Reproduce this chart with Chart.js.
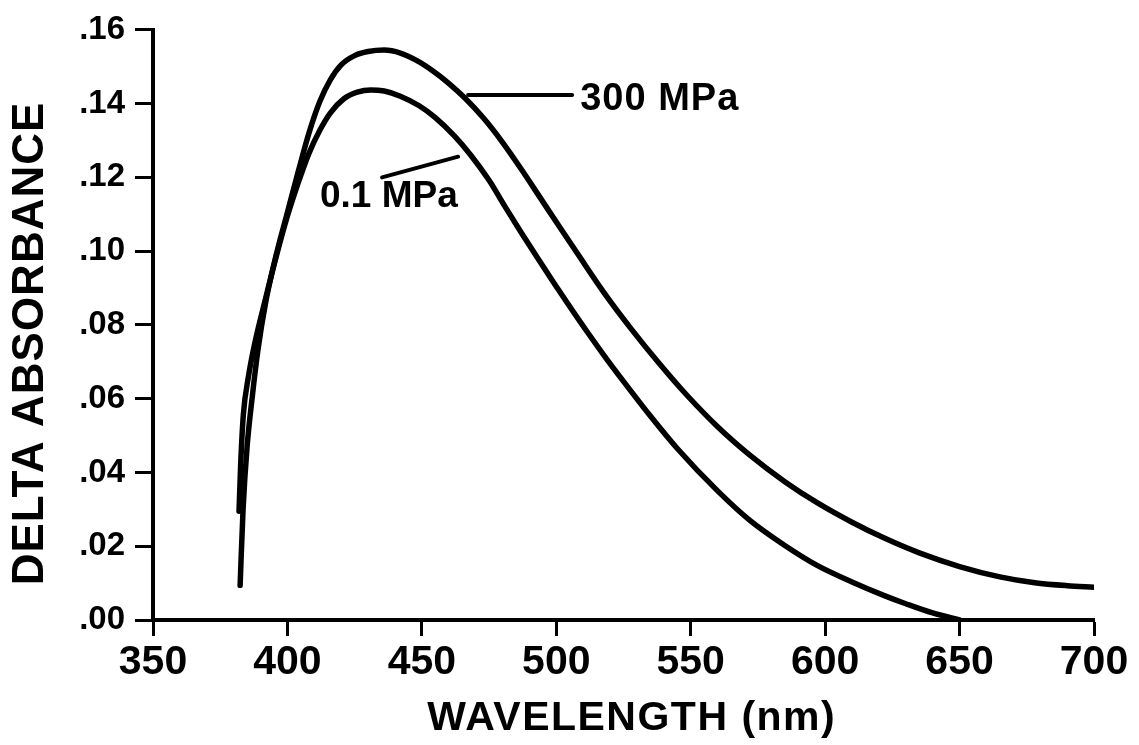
<!DOCTYPE html>
<html>
<head>
<meta charset="utf-8">
<script src="https://cdn.jsdelivr.net/npm/chart.js@4.4.1/dist/chart.umd.min.js"></script>
<style>
  html, body { margin: 0; padding: 0; background: #fff; }
  #c { display: block; }
</style>
</head>
<body>
<canvas id="c" width="1139" height="745"></canvas>
<script>
// ---- Data ----
const wavelength01 = [382, 382.6, 383.6, 385.5, 388, 392, 396, 400, 404, 408, 412, 416, 421, 426, 431, 436, 442, 449, 455, 462, 468, 475, 481, 487, 493, 499, 505, 512, 518, 525, 535, 545, 560, 572, 585, 597, 610, 622, 630, 640, 650];
const absorb01 = [0.0295, 0.042, 0.0556, 0.066, 0.0755, 0.0875, 0.099, 0.1095, 0.1185, 0.1265, 0.1327, 0.1375, 0.1413, 0.1431, 0.1437, 0.1434, 0.1420, 0.1394, 0.1362, 0.1313, 0.1262, 0.1192, 0.1120, 0.1050, 0.0982, 0.0915, 0.0850, 0.0776, 0.0715, 0.0647, 0.0553, 0.0465, 0.0350, 0.0270, 0.0202, 0.0148, 0.0103, 0.0066, 0.0044, 0.0019, 0.0];

const wavelength300 = [382.4, 383.5, 385, 387, 389, 392, 396, 400, 404, 408, 412, 416, 420, 425, 430, 436, 442, 448, 454, 460, 466, 473, 480, 487, 494, 501, 508, 518, 528, 538, 548, 560, 572, 585, 597, 610, 622, 635, 650, 665, 678, 690, 700];
const absorb300 = [0.0094, 0.030, 0.047, 0.061, 0.073, 0.0865, 0.0995, 0.1105, 0.1215, 0.132, 0.1405, 0.1465, 0.1505, 0.1530, 0.1541, 0.1545, 0.1537, 0.1517, 0.1489, 0.1455, 0.1415, 0.1360, 0.1295, 0.1222, 0.1145, 0.1068, 0.0992, 0.0885, 0.0788, 0.0698, 0.0614, 0.0524, 0.0447, 0.0375, 0.0318, 0.0265, 0.0222, 0.0182, 0.0145, 0.0117, 0.0101, 0.0093, 0.0089];

const seriesNames = ['0.1 MPa', '300 MPa'];
const xTickLabels = ['350', '400', '450', '500', '550', '600', '650', '700'];
const yTickLabels = ['.00', '.02', '.04', '.06', '.08', '.10', '.12', '.14', '.16'];
const xTitle = 'WAVELENGTH (nm)';
const yTitle = 'DELTA ABSORBANCE';

// label anchors (data coordinates)
const labelAnchors = [
  { text: '300 MPa', line: [[467.2, 0.1423], [505.9, 0.1423]], at: [508.9, 0.1410], size: 38, spacing: 1 },
  { text: '0.1 MPa', line: [[435.2, 0.1200], [463.5, 0.1256]], at: [412.1, 0.1146], size: 37, spacing: 0 }
];

const toPoints = (xs, ys) => xs.map((x, i) => ({ x: x, y: ys[i] }));

const FONT = '"Liberation Sans", Arial, Helvetica, sans-serif';

const annotPlugin = {
  id: 'annot',
  afterDraw(chart) {
    const ctx = chart.ctx;
    const xs = chart.scales.x, ys = chart.scales.y;
    ctx.save();
    ctx.fillStyle = '#000';
    ctx.strokeStyle = '#000';
    labelAnchors.forEach((a) => {
      ctx.lineWidth = 4;
      ctx.lineCap = 'round';
      ctx.beginPath();
      ctx.moveTo(xs.getPixelForValue(a.line[0][0]), ys.getPixelForValue(a.line[0][1]));
      ctx.lineTo(xs.getPixelForValue(a.line[1][0]), ys.getPixelForValue(a.line[1][1]));
      ctx.stroke();
      ctx.font = 'bold ' + a.size + 'px ' + FONT;
      ctx.letterSpacing = a.spacing + 'px';
      ctx.textAlign = 'left';
      ctx.textBaseline = 'middle';
      ctx.fillText(a.text, xs.getPixelForValue(a.at[0]), ys.getPixelForValue(a.at[1]));
    });
    // x title
    ctx.font = 'bold 41px ' + FONT;
    ctx.letterSpacing = '1.5px';
    ctx.textBaseline = 'middle';
    ctx.textAlign = 'left';
    let w = ctx.measureText(xTitle).width;
    ctx.fillText(xTitle, 631 - (w - 1.5) / 2, 719);
    // y title
    ctx.font = 'bold 44px ' + FONT;
    ctx.letterSpacing = '1px';
    w = ctx.measureText(yTitle).width;
    ctx.translate(31, 344);
    ctx.rotate(-Math.PI / 2);
    ctx.fillText(yTitle, -(w - 1) / 2, 0);
    ctx.restore();
    ctx.letterSpacing = '0px';
  }
};

const lineStyle = {
  showLine: true,
  borderColor: '#000',
  backgroundColor: '#000',
  borderWidth: 5.5,
  pointRadius: 0,
  cubicInterpolationMode: 'monotone',
  borderCapStyle: 'round',
  borderJoinStyle: 'round'
};

new Chart(document.getElementById('c'), {
  type: 'scatter',
  data: {
    datasets: [
      Object.assign({ label: seriesNames[0], data: toPoints(wavelength01, absorb01) }, lineStyle),
      Object.assign({ label: seriesNames[1], data: toPoints(wavelength300, absorb300) }, lineStyle)
    ]
  },
  options: {
    responsive: false,
    animation: false,
    devicePixelRatio: 1,
    layout: { padding: { top: 24, right: 45, left: 0, bottom: 0 } },
    plugins: {
      legend: { display: false },
      tooltip: { enabled: false }
    },
    scales: {
      x: {
        type: 'linear',
        min: 350,
        max: 700,
        border: { display: true, color: '#000', width: 4 },
        grid: { display: true, drawOnChartArea: false, drawTicks: true, tickLength: 16, tickWidth: 3, tickColor: '#000' },
        ticks: {
          stepSize: 50,
          color: '#000',
          padding: 2,
          maxRotation: 0,
          autoSkip: false,
          font: { family: FONT, weight: 'bold', size: 41 },
          callback: (v, i) => xTickLabels[i]
        },
        afterFit: (s) => { s.height = 125; }
      },
      y: {
        type: 'linear',
        min: 0,
        max: 0.16,
        border: { display: true, color: '#000', width: 4 },
        grid: { display: true, drawOnChartArea: false, drawTicks: true, tickLength: 18, tickWidth: 3, tickColor: '#000' },
        ticks: {
          stepSize: 0.02,
          color: '#000',
          padding: 10,
          autoSkip: false,
          font: { family: FONT, weight: 'bold', size: 33 },
          callback: (v, i) => yTickLabels[i]
        },
        afterFit: (s) => { s.width = 153; }
      }
    }
  },
  plugins: [annotPlugin]
});
</script>
</body>
</html>
